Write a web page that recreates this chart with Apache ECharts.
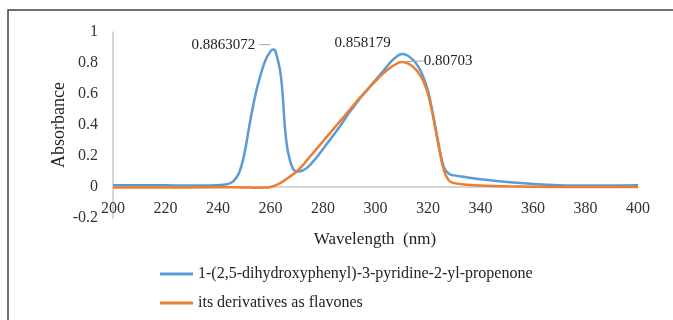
<!DOCTYPE html>
<html>
<head>
<meta charset="utf-8">
<script src="https://cdn.jsdelivr.net/npm/echarts@6/dist/echarts.min.js"></script>
<style>
  html, body { margin: 0; padding: 0; background: #fff; }
  #chart { width: 673px; height: 320px; }
</style>
</head>
<body>
<div id="chart"></div>
<script>
// UV-Vis spectra
const seriesNames = [
  "1-(2,5-dihydroxyphenyl)-3-pyridine-2-yl-propenone",
  "its derivatives as flavones",
];

const blueWl = [200, 210, 220, 230, 236, 240, 242, 244, 246, 248, 250, 252, 254, 256, 258, 260, 261,
  262, 264, 266, 268, 270, 272, 274, 276, 278, 280, 282, 284, 286, 288, 290, 292, 294, 296, 298,
  300, 302, 304, 306, 308, 310, 312, 314, 316, 318, 320, 322, 324, 326, 328, 330, 335, 340, 350,
  360, 370, 380, 390, 400];
const blueAbs = [0.012, 0.012, 0.011, 0.009, 0.009, 0.012, 0.015, 0.02, 0.04, 0.09, 0.21, 0.40, 0.575, 0.71, 0.815, 0.875, 0.8863072,
  0.87, 0.71, 0.3, 0.14, 0.10, 0.105, 0.125, 0.16, 0.20, 0.245, 0.29, 0.335, 0.38, 0.43, 0.48, 0.525, 0.57, 0.61, 0.65,
  0.69, 0.73, 0.77, 0.81, 0.84, 0.858179, 0.85, 0.825, 0.785, 0.72, 0.62, 0.46, 0.28, 0.13, 0.085, 0.075, 0.062, 0.05, 0.032,
  0.019, 0.011, 0.009, 0.01, 0.011];

const orangeWl = [200, 220, 240, 250, 254, 258, 260, 262, 264, 266, 268, 270, 272, 274, 276, 278, 280, 282,
  284, 286, 288, 290, 292, 294, 296, 298, 300, 302, 304, 306, 308, 310, 312, 314, 316, 318, 320, 322,
  324, 326, 328, 330, 335, 340, 350, 360, 370, 400];
const orangeAbs = [-0.003, -0.003, -0.002, -0.003, -0.005, -0.004, 0.0, 0.01, 0.028, 0.05, 0.075, 0.10, 0.135, 0.175, 0.215, 0.255, 0.295, 0.335,
  0.375, 0.415, 0.455, 0.495, 0.535, 0.575, 0.612, 0.648, 0.683, 0.718, 0.748, 0.774, 0.795, 0.80703, 0.80, 0.78, 0.745, 0.69, 0.60, 0.45,
  0.27, 0.11, 0.04, 0.025, 0.015, 0.01, 0.005, 0.002, 0, 0];

// labelled peaks: wavelength of the point per series
const blueLabelled = [261, 310];
const orangeLabelled = [310];

const yTicks = [-0.2, 0, 0.2, 0.4, 0.6, 0.8, 1];

const FONT = "'Liberation Serif', 'Times New Roman', serif";
const BLUE = "#5b9bd5";
const ORANGE = "#ed7d31";
const LEADER = "#a6a6a6";

// where each peak label sits relative to its point (side: -1 left of it, 1 right)
// dash: short leader drawn as part of the label text
const labelPlacement = {
  "0-261": { side: -1, gap: 3, dy: -5, line: false, dash: true },
  "0-310": { side: -1, gap: 11, dy: -11, line: false, dash: false },
  "1-310": { side: 1, gap: 22, dy: -1, line: true, dash: false },
};

function buildData(seriesIndex, wl, abs, labelled) {
  return wl.map((x, i) => {
    const item = { value: [x, abs[i]] };
    if (labelled.includes(x)) {
      const o = labelPlacement[seriesIndex + "-" + x];
      item.label = {
        show: true,
        formatter: (p) => "{v|" + p.value[1] + "}" + (o.dash ? "{s|}{l|}" : ""),
      };
      item.labelLine = { show: o.line, lineStyle: { color: LEADER, width: 1 } };
    }
    return item;
  });
}

function layoutLabel(seriesIndex, p) {
  const wl = seriesIndex === 0 ? blueWl : orangeWl;
  const o = labelPlacement[seriesIndex + "-" + wl[p.dataIndex]];
  if (!o) return {};
  const px = p.rect.x + p.rect.width / 2;
  const py = p.rect.y + p.rect.height / 2;
  const w = p.labelRect.width;
  return {
    x: o.side < 0 ? px - o.gap - w : px + o.gap,
    y: py + o.dy,
    align: "left",
    verticalAlign: "middle",
  };
}

function lineSeries(i, color, wl, abs, labelled) {
  return {
    name: seriesNames[i],
    type: "line",
    smooth: 0.4,
    symbol: "circle",
    symbolSize: 0,
    showSymbol: true,
    showAllSymbol: true,
    lineStyle: { color: color, width: 2.5 },
    itemStyle: { color: color },
    label: {
      show: false,
      rich: {
        v: { fontFamily: FONT, fontSize: 15, color: "#222" },
        s: { width: 4 },
        l: { width: 11, height: 1, backgroundColor: LEADER },
      },
    },
    labelLine: { show: false },
    labelLayout: (p) => layoutLabel(i, p),
    data: buildData(i, wl, abs, labelled),
    z: 2 + i,
  };
}

const chart = echarts.init(document.getElementById("chart"));

chart.setOption({
  backgroundColor: "#fff",
  animation: false,
  grid: { left: 113, right: 35, top: 32, bottom: 102 },
  graphic: [
    {
      type: "polyline",
      shape: { points: [[8, 330], [8, 10], [680, 10]] },
      style: { stroke: "#404040", lineWidth: 1.5, fill: null },
      silent: true,
    },
    {
      type: "text",
      x: 375,
      y: 240,
      style: {
        text: "Wavelength  (nm)",
        font: "17px " + FONT,
        fill: "#222",
        align: "center",
        verticalAlign: "middle",
      },
    },
  ],
  legend: {
    left: 160,
    top: 266,
    padding: 0,
    orient: "vertical",
    icon: "rect",
    itemWidth: 33,
    itemHeight: 3,
    itemGap: 13,
    textStyle: { fontFamily: FONT, fontSize: 16, color: "#222" },
    data: seriesNames,
  },
  xAxis: {
    type: "value",
    min: 200,
    max: 400,
    interval: 20,
    offset: -31,
    axisLine: { onZero: false, lineStyle: { color: "#c8c8c8", width: 1.5 } },
    axisTick: { show: false },
    splitLine: { show: false },
    axisLabel: { fontFamily: FONT, fontSize: 16, color: "#333", margin: 14 },
  },
  yAxis: {
    type: "value",
    min: yTicks[0],
    max: yTicks[yTicks.length - 1],
    interval: 0.2,
    name: "Absorbance",
    nameLocation: "middle",
    nameGap: 45,
    nameMoveOverlap: false,
    nameTextStyle: { fontFamily: FONT, fontSize: 18, color: "#222" },
    axisLine: { show: true, lineStyle: { color: "#c8c8c8", width: 1.5 } },
    axisTick: { show: false },
    splitLine: { show: false },
    axisLabel: {
      fontFamily: FONT,
      fontSize: 16,
      color: "#333",
      margin: 15,
      formatter: (v) => String(Math.round(v * 10) / 10),
    },
  },
  series: [
    lineSeries(0, BLUE, blueWl, blueAbs, blueLabelled),
    lineSeries(1, ORANGE, orangeWl, orangeAbs, orangeLabelled),
  ],
});
</script>
</body>
</html>
